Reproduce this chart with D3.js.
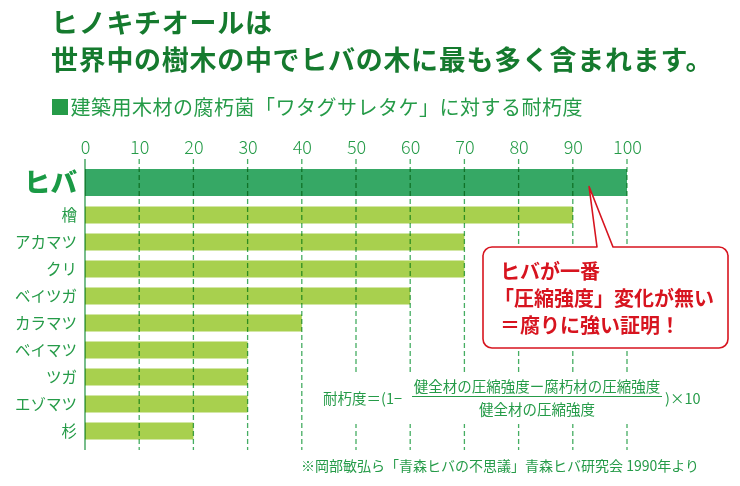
<!DOCTYPE html>
<html><head><meta charset="utf-8">
<script src="https://cdn.jsdelivr.net/npm/d3@7"></script>
<style>
html,body{margin:0;padding:0;background:#fff;}
svg{display:block;font-family:"Noto Sans CJK JP","Noto Sans",sans-serif;}
</style></head>
<body><svg id="c" width="740" height="486"></svg>
<script>
const categories = ["ヒバ","檜","アカマツ","クリ","ベイツガ","カラマツ","ベイマツ","ツガ","エゾマツ","杉"];
const values = [100,90,70,70,60,40,30,30,30,20];
const tickValues = [0,10,20,30,40,50,60,70,80,90,100];
const titleLines = ["ヒノキチオールは","世界中の樹木の中でヒバの木に最も多く含まれます。"];
const subtitle = "■建築用木材の腐朽菌「ワタグサレタケ」に対する耐朽度";
const calloutLines = ["ヒバが一番","「圧縮強度」変化が無い","＝腐りに強い証明！"];
const formulaLeft = "耐朽度＝(1−";
const formulaNum = "健全材の圧縮強度ー腐朽材の圧縮強度";
const formulaDen = "健全材の圧縮強度";
const formulaRight = ")×10";
const footnote = "※岡部敏弘ら「青森ヒバの不思議」青森ヒバ研究会 1990年より";

const svg = d3.select("#c");
const GREEN = "#259b48", DARK = "#157a2e", RED = "#d7141f";

// titles
svg.append("g").selectAll("text").data(titleLines).join("text")
  .attr("x",51).attr("y",(d,i)=>33+i*37)
  .attr("font-size",27).attr("font-weight",700).attr("fill",DARK)
  .attr("letter-spacing",0.7).text(d=>d);
svg.append("text").attr("x",50).attr("y",115).attr("font-size",20)
  .attr("fill",GREEN).attr("letter-spacing",0.5).text(subtitle);

const x = d3.scaleLinear().domain([0,100]).range([85,627]);
// row centers
const rowY = d3.scaleOrdinal().domain(categories)
  .range(categories.map((c,i)=> i===0 ? 182.5 : 215 + (i-1)*27));

// axis labels
const axis = d3.axisTop(x).tickValues(tickValues).tickSize(0).tickPadding(0);
const ag = svg.append("g").attr("transform","translate(0,154)").call(axis);
ag.select(".domain").remove();
ag.selectAll("text").attr("font-size",18).attr("fill",GREEN)
  .attr("font-family","'Noto Sans CJK JP',sans-serif").attr("font-weight",300);

// bars
svg.append("g").selectAll("rect").data(values).join("rect")
  .attr("x",x(0))
  .attr("width",d=>x(d)-x(0))
  .attr("y",(d,i)=> rowY(categories[i]) - (i===0?13.5:8.5))
  .attr("height",(d,i)=> i===0?27:17)
  .attr("fill",(d,i)=> i===0?"#36a865":"#a8d04e");

// category labels
svg.append("g").selectAll("text").data(categories).join("text")
  .attr("x",77).attr("y",c=>rowY(c)).attr("dy","0.36em")
  .attr("text-anchor","end")
  .attr("font-size",(c,i)=> i===0?26.5:15.5)
  .attr("font-weight",(c,i)=> i===0?900:400)
  .attr("fill",(c,i)=> i===0?"#1a9a45":GREEN)
  .text(c=>c);

// gridlines
const grid = svg.append("g").style("mix-blend-mode","multiply");
grid.selectAll("line").data(tickValues).join("line")
  .attr("x1",d=>x(d)).attr("x2",d=>x(d))
  .attr("y1",159).attr("y2",450)
  .attr("stroke",d=> d===0 ? "#2e9a4e" : "#45ad62")
  .attr("stroke-width",1.3)
  .attr("stroke-dasharray",d=> d===0 ? null : "5,3");

// formula area blanking
svg.append("rect").attr("x",312).attr("y",373).attr("width",400).attr("height",51).attr("fill","#fff");

// formula
const fs = 14.5;
svg.append("text").attr("x",323).attr("y",404).attr("font-size",fs).attr("fill",GREEN).text(formulaLeft);
svg.append("text").attr("x",537).attr("y",392).attr("text-anchor","middle").attr("font-size",fs).attr("fill",GREEN).text(formulaNum);
svg.append("line").attr("x1",412).attr("x2",662).attr("y1",396.5).attr("y2",396.5).attr("stroke",GREEN).attr("stroke-width",1);
svg.append("text").attr("x",537).attr("y",415).attr("text-anchor","middle").attr("font-size",fs).attr("fill",GREEN).text(formulaDen);
svg.append("text").attr("x",665).attr("y",404).attr("font-size",fs).attr("fill",GREEN).text(formulaRight);

// footnote
svg.append("text").attr("x",301).attr("y",471).attr("font-size",14).attr("fill",GREEN).text(footnote);

// callout
const bx0=483, bx1=728, by0=247, by1=348, r=9;
const tipX = x(93), tipY = rowY(categories[0]) + 4;
const p = d3.path();
p.moveTo(bx0+r,by0);
p.lineTo(597,by0);
p.lineTo(tipX,tipY);
p.lineTo(613,by0);
p.lineTo(bx1-r,by0);
p.arcTo(bx1,by0,bx1,by0+r,r);
p.lineTo(bx1,by1-r);
p.arcTo(bx1,by1,bx1-r,by1,r);
p.lineTo(bx0+r,by1);
p.arcTo(bx0,by1,bx0,by1-r,r);
p.lineTo(bx0,by0+r);
p.arcTo(bx0,by0,bx0+r,by0,r);
p.closePath();
svg.append("path").attr("d",p.toString()).attr("fill","#fff")
  .attr("stroke",RED).attr("stroke-width",1.6).attr("stroke-linejoin","round");
svg.append("g").selectAll("text").data(calloutLines).join("text")
  .attr("x",(d,i)=> i===1?494:500).attr("y",(d,i)=>279+i*27)
  .attr("font-size",20).attr("font-weight",700).attr("fill",RED)
  .text(d=>d);
</script></body></html>
